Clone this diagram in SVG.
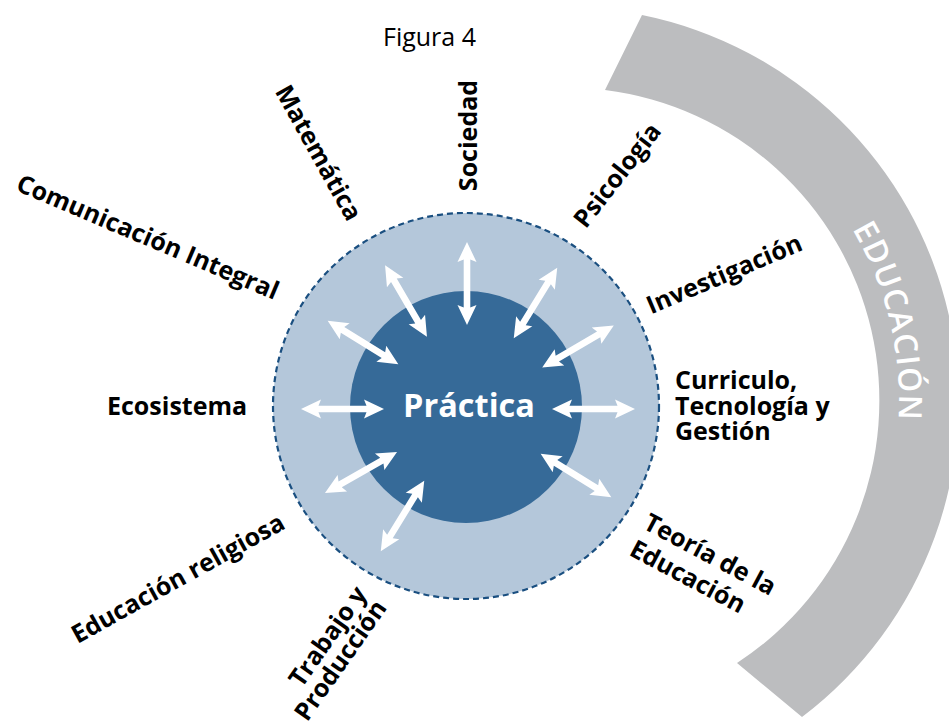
<svg xmlns="http://www.w3.org/2000/svg" width="949" height="722" viewBox="0 0 949 722">
<style>
.lbl{font-family:"Open Sans","Noto Sans",sans-serif;font-weight:700;font-size:25px;fill:#000}
.title{font-family:"Open Sans","Noto Sans",sans-serif;font-weight:400;font-size:25px;fill:#000}
.center{font-family:"Open Sans","Noto Sans",sans-serif;font-weight:700;font-size:32.5px;fill:#fff}
.edu{font-family:"Open Sans","Noto Sans",sans-serif;font-weight:600;font-size:32px;letter-spacing:1.5px;fill:#fff}
.arrow{fill:#fff}
</style>
<defs>
<path id="dbl" d="M-41.5,0 L-21.5,-9.5 L-24,-3.3 L24,-3.3 L21.5,-9.5 L41.5,0 L21.5,9.5 L24,3.3 L-24,3.3 L-21.5,9.5 Z"/>
<path id="eduArc" d="M800.9,163.1 A335,335 0 0 1 878.8,514.6" fill="none"/>
</defs>
<rect width="949" height="722" fill="#fff"/>
<g id="educacion-band">
<path d="M642,15 A395,395 0 0 1 802,717 L737,663 A313,313 0 0 0 605,90 Z" fill="#bcbdbf"/>
<text class="edu" text-anchor="middle"><textPath href="#eduArc" startOffset="184">EDUCACIÓN</textPath></text>
</g>
<text class="title" x="383" y="46">Figura 4</text>
<g id="outer-circle">
<circle cx="466" cy="406" r="193" fill="#b4c7da" stroke="#1a4f80" stroke-width="2.2" stroke-dasharray="6,4"/>
</g>
<g id="practica">
<circle cx="466" cy="407" r="116" fill="#366a98"/>
<text class="center" x="469" y="417" text-anchor="middle">Práctica</text>
</g>
<g id="connectors" class="arrow">
<use href="#dbl" transform="translate(467,283.5) rotate(90)"/>
<use href="#dbl" transform="translate(406,301) rotate(59.7)"/>
<use href="#dbl" transform="translate(535.5,303) rotate(-58.4)"/>
<use href="#dbl" transform="translate(363,342.5) rotate(31.6)"/>
<use href="#dbl" transform="translate(578,346.5) rotate(-30.4)"/>
<use href="#dbl" transform="translate(342.5,409)"/>
<use href="#dbl" transform="translate(593.5,409)"/>
<use href="#dbl" transform="translate(361,472.5) rotate(-29.7)"/>
<use href="#dbl" transform="translate(576,475.5) rotate(31.6)"/>
<use href="#dbl" transform="translate(402.5,516) rotate(-58.4)"/>
</g>
<g id="comunicacion">
<text class="lbl" transform="translate(144.5,245) rotate(23)" text-anchor="middle">Comunicación Integral</text>
</g>
<g id="matematica">
<text class="lbl" transform="translate(311,157) rotate(61)" text-anchor="middle">Matemática</text>
</g>
<g id="sociedad">
<text class="lbl" transform="translate(477,135.5) rotate(-90)" text-anchor="middle">Sociedad</text>
</g>
<g id="psicologia">
<text class="lbl" transform="translate(624,180.5) rotate(-52)" text-anchor="middle">Psicología</text>
</g>
<g id="investigacion">
<text class="lbl" transform="translate(727.5,282) rotate(-23)" text-anchor="middle">Investigación</text>
</g>
<g id="curriculo">
<text class="lbl" x="675" y="389">Curriculo,</text>
<text class="lbl" x="675" y="415">Tecnología y</text>
<text class="lbl" x="675" y="440">Gestión</text>
</g>
<g id="teoria">
<g transform="translate(642,528) rotate(28)">
<text class="lbl" x="0" y="0">Teoría de la</text>
<text class="lbl" x="0" y="30">Educación</text>
</g>
</g>
<g id="trabajo">
<g transform="translate(368,594) rotate(-55)">
<text class="lbl" x="0" y="0" text-anchor="end">Trabajo y</text>
<text class="lbl" x="0" y="24" text-anchor="end">Producción</text>
</g>
</g>
<g id="religiosa">
<text class="lbl" transform="translate(182,586) rotate(-29)" text-anchor="middle">Educación religiosa</text>
</g>
<g id="ecosistema">
<text class="lbl" x="107" y="415">Ecosistema</text>
</g>
</svg>
